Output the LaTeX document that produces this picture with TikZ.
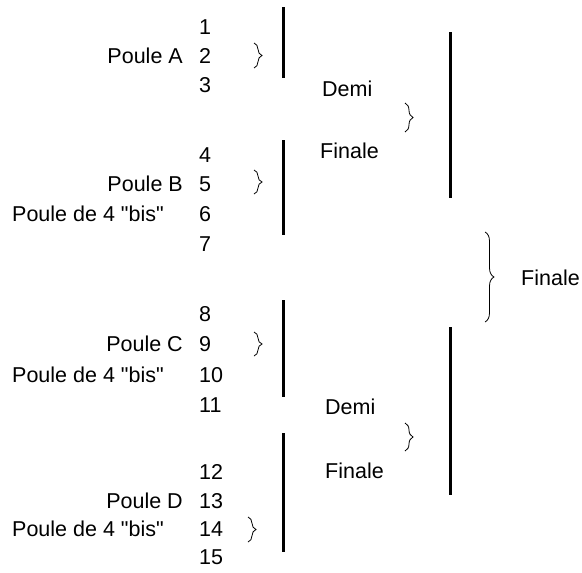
\documentclass[tikz,border=0pt]{standalone}
\usepackage{fontspec}
\newfontfamily\arialfont{Liberation Sans}
\usetikzlibrary{decorations.pathreplacing}

\tikzset{
  txt/.style={inner sep=0pt, font=\arialfont\fontsize{21.5}{26}\selectfont},
  seed/.style={txt, anchor=west},
  poule/.style={txt, anchor=east},
  bar/.style={line width=3pt},
  accol/.style={decorate, decoration={brace, amplitude=#1}, line width=0.8pt}
}

\begin{document}
\begin{tikzpicture}[x=1pt, y=-1pt]
        \useasboundingbox (0,0) rectangle (582,573);

        % Define the seeds
        \foreach \n/\y in {1/27, 2/56, 3/85, 4/155, 5/184, 6/214, 7/244,
                           8/314, 9/344, 10/375, 11/405, 12/472, 13/501, 14/529, 15/557}
            \node[seed] (s\n) at (199,\y) {\n};

        % Define the pools
        \node[poule] (pA) at (183,56) {Poule A};
        \node[poule] (pB) at (183,184) {Poule B};
        \node[poule] (pC) at (183,344) {Poule C};
        \node[poule] (pD) at (183,501) {Poule D};
        \node[seed] (bisB) at (12,214) {Poule de 4 "bis"};
        \node[seed] (bisC) at (12,375) {Poule de 4 "bis"};
        \node[seed] (bisD) at (12,529) {Poule de 4 "bis"};

        % Define the rounds
        \node[seed] (demiH) at (322,89) {Demi};
        \node[seed] (finH) at (320,151) {Finale};
        \node[seed] (demiL) at (325,407) {Demi};
        \node[seed] (finL) at (325,471) {Finale};
        \node[seed] (finale) at (521,278) {Finale};

        % Define the bars
        \draw[bar] (283,7) -- (283,78);
        \draw[bar] (283,140) -- (283,235);
        \draw[bar] (283,300) -- (283,397);
        \draw[bar] (283,433) -- (283,552);
        \draw[bar] (450,32) -- (450,198);
        \draw[bar] (450,327) -- (450,495);

        % Define the braces
        \draw[accol=8pt] (254,43) -- (254,68);
        \draw[accol=8pt] (254,170) -- (254,194);
        \draw[accol=8pt] (254,332) -- (254,356);
        \draw[accol=8pt] (248,517) -- (248,542);
        \draw[accol=8pt] (405,103) -- (405,132);
        \draw[accol=8pt] (405,423) -- (405,451);
        \draw[accol=9pt] (485,232) -- (485,322);
    \end{tikzpicture}
\end{document}
